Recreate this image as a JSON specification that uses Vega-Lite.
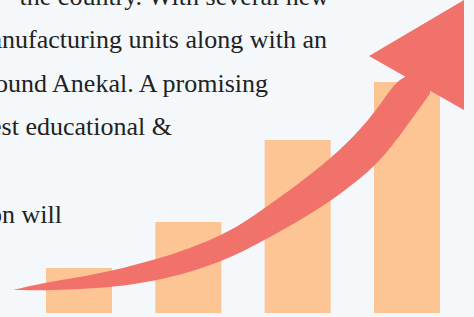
{
  "$schema": "https://vega.github.io/schema/vega-lite/v6.json",
  "width": 474,
  "height": 317,
  "padding": 0,
  "autosize": "none",
  "background": "#f5f8fb",
  "config": {"view": {"stroke": null}, "axis": {"disable": true}},
  "datasets": {
    "bars": [
      {"step": 1, "value": 45},
      {"step": 2, "value": 91},
      {"step": 3, "value": 173},
      {"step": 4, "value": 231}
    ],
    "shaft": [
      {"s": 0.39634, "top": 23, "bottom": 23},
      {"s": 0.69817, "top": 30.6, "bottom": 22.3},
      {"s": 1.00915, "top": 36, "bottom": 24},
      {"s": 1.30183, "top": 42.1, "bottom": 25.7},
      {"s": 1.70427, "top": 53.5, "bottom": 32.3},
      {"s": 2.01524, "top": 64.7, "bottom": 40.8},
      {"s": 2.30793, "top": 78.1, "bottom": 52},
      {"s": 2.47256, "top": 88, "bottom": 60.1},
      {"s": 2.70122, "top": 105, "bottom": 73.1},
      {"s": 2.9939, "top": 128, "bottom": 91},
      {"s": 3.30488, "top": 154.2, "bottom": 112.1},
      {"s": 3.59756, "top": 186, "bottom": 136.1},
      {"s": 3.78049, "top": 212, "bottom": 156.1},
      {"s": 3.93598, "top": 238, "bottom": 177.4},
      {"s": 4.21037, "top": 243, "bottom": 219.4}
    ],
    "head": [
      {"s": 3.65244, "top": 257, "bottom": 257},
      {"s": 4.52134, "top": 313, "bottom": 203}
    ],
    "lines": [
      {"t": "the country. With several new", "end": 3.2866, "base": 308},
      {"t": "manufacturing units along with an", "end": 3.2683, "base": 265.5},
      {"t": "around Anekal. A promising", "end": 2.7287, "base": 221.5},
      {"t": "finest educational &", "end": 1.8506, "base": 178},
      {"t": "region will", "end": 0.8445, "base": 90}
    ]
  },
  "layer": [
    {
      "data": {"name": "bars"},
      "mark": {"type": "bar", "size": 66, "color": "#fdc593"},
      "encoding": {
        "x": {"field": "step", "type": "quantitative", "scale": {"domain": [0.27744, 4.61281], "nice": false, "zero": false, "padding": 0}},
        "y": {"field": "value", "type": "quantitative", "scale": {"domain": [-4, 313], "nice": false, "zero": false}}
      }
    },
    {
      "data": {"name": "shaft"},
      "mark": {"type": "area", "color": "#f1716b", "interpolate": "basis"},
      "encoding": {
        "x": {"field": "s", "type": "quantitative"},
        "y": {"field": "top", "type": "quantitative"},
        "y2": {"field": "bottom"}
      }
    },
    {
      "data": {"name": "head"},
      "mark": {"type": "area", "color": "#f1716b", "interpolate": "linear"},
      "encoding": {
        "x": {"field": "s", "type": "quantitative"},
        "y": {"field": "top", "type": "quantitative"},
        "y2": {"field": "bottom"}
      }
    },
    {
      "data": {"name": "lines"},
      "mark": {"type": "text", "align": "right", "baseline": "alphabetic", "font": "Liberation Serif", "fontSize": 26, "color": "#222222"},
      "encoding": {
        "x": {"field": "end", "type": "quantitative"},
        "y": {"field": "base", "type": "quantitative"},
        "text": {"field": "t"}
      }
    }
  ]
}
